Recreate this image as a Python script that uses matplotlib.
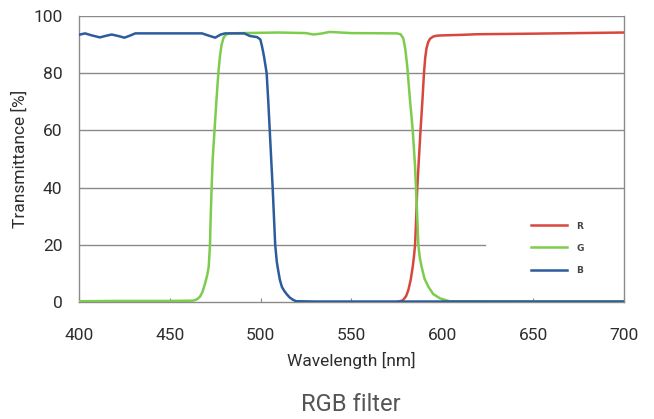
import matplotlib
matplotlib.use('Agg')
import matplotlib.pyplot as plt

# Data (wavelength in nm, transmittance in %)
wl_r = [575, 578.2, 580, 581.3, 582.6, 583.7, 584.4, 585.0, 585.6, 586.2, 587.1, 588.0, 589.0, 589.9,
        590.6, 591.3, 592.2, 593.2, 595, 597, 600, 611.4, 618.9, 650, 700]
t_r = [0, 0.6, 2.0, 4.2, 7.8, 12.3, 16, 20, 29, 39.8, 50, 60, 70, 80,
       85.5, 88.7, 90.8, 92.0, 92.8, 93.1, 93.2, 93.4, 93.6, 93.8, 94.2]

wl_g = [400, 420, 450, 462.9, 465, 466.6, 468, 469.4, 470.6, 471.4, 472.1, 472.5, 473.0, 473.6, 474.6, 475.6, 476.7, 477.6,
        478.5, 479.6, 480.9, 483, 490, 510, 525, 529, 533, 538, 550, 574.9, 577, 578.5, 579.6, 580.7, 582.2, 583.7,
        585.0, 586.2, 586.8, 587.6, 588.6, 590.2, 592.3, 595, 598.7, 604, 650, 700]
t_g = [0.3, 0.4, 0.4, 0.5, 1.0, 1.9, 3.6, 6.5, 9.5, 12.3, 20, 30, 40, 50, 60, 70, 80, 86,
       90, 92.4, 93.5, 93.9, 94, 94.2, 94.0, 93.5, 93.8, 94.4, 94, 93.9, 93.6, 92.2, 88.5, 82.3, 70.6, 60.1,
       47.3, 29.8, 20, 15.5, 12.3, 8.2, 5.4, 2.8, 1.3, 0.3, 0.2, 0.2]

wl_b = [400, 403.3, 407, 411.5, 414.5, 418, 421.5, 425, 428, 431, 450, 467.7, 471, 475, 478, 480.4, 491, 494, 498, 499.8,
        500.7, 501.8, 503.3, 504.2, 505, 505.8, 506.6, 507.3, 508, 508.9, 509.8, 510.6, 511.7, 513, 514.3, 516, 517.8,
        519.6, 530, 600, 700]
t_b = [93.4, 93.9, 93.2, 92.5, 93.0, 93.5, 93.0, 92.4, 93.1, 93.9, 93.9, 93.9, 93.2, 92.4, 93.5, 93.9, 93.9, 93.0, 92.6, 91.8,
       89.5, 86, 80, 70, 60, 50, 40, 30, 20, 14, 10.5, 7.7, 5.3, 3.9, 2.8, 1.6, 0.8,
       0.3, 0.2, 0.2, 0.2]

series = [('R', wl_r, t_r, '#d8473d'), ('G', wl_g, t_g, '#7dcc4e'), ('B', wl_b, t_b, '#2c5c9e')]
yticks = [0, 20, 40, 60, 80, 100]
xticks = [400, 450, 500, 550, 600, 650, 700]

plt.rcParams['font.family'] = ['Roboto', 'DejaVu Sans']

fig = plt.figure(figsize=(6.54, 4.19), dpi=100)
ax = fig.add_axes([0.1208, 0.279, 0.8333, 0.683])

# horizontal grid, the 20% line stops where the legend sits
for y in yticks[1:]:
    xmax = 0.745 if y == 20 else 1.0
    ax.axhline(y, xmin=0, xmax=xmax, color='#8a8a8a', lw=1.0, zorder=1)

for name, wl, t, c in series:
    ax.plot(wl, t, color=c, lw=1.8, label=name, zorder=3)

ax.set_xlim(400, 700)
ax.set_ylim(0, 100)
ax.set_xticks(xticks)
ax.set_yticks(yticks)
ax.tick_params(axis='x', direction='in', length=3, color='#8a8a8a', labelsize=12.5, labelcolor='#2e2e2e', pad=19)
ax.tick_params(axis='y', length=0, labelsize=12.5, labelcolor='#2e2e2e', pad=12)

for s in ['left', 'right', 'bottom']:
    ax.spines[s].set_color('#8a8a8a')
    ax.spines[s].set_linewidth(1.0)
ax.spines['top'].set_visible(False)

ax.set_xlabel('Wavelength [nm]', fontsize=12.5, color='#2e2e2e', labelpad=6)
ax.set_ylabel('Transmittance [%]', fontsize=12.5, color='#2e2e2e', labelpad=4)

leg = ax.legend(loc='upper left', bbox_to_anchor=(0.815, 0.31), frameon=False,
                prop={'family': 'DejaVu Sans', 'weight': 'bold', 'size': 6.5},
                handlelength=4.0, handletextpad=1.0, labelspacing=1.45)
for t in leg.get_texts():
    t.set_color('#444444')

fig.text(0.537, 0.035, 'RGB filter', ha='center', va='center', fontsize=17, color='#555555')

fig.savefig('out.png', dpi=100)
